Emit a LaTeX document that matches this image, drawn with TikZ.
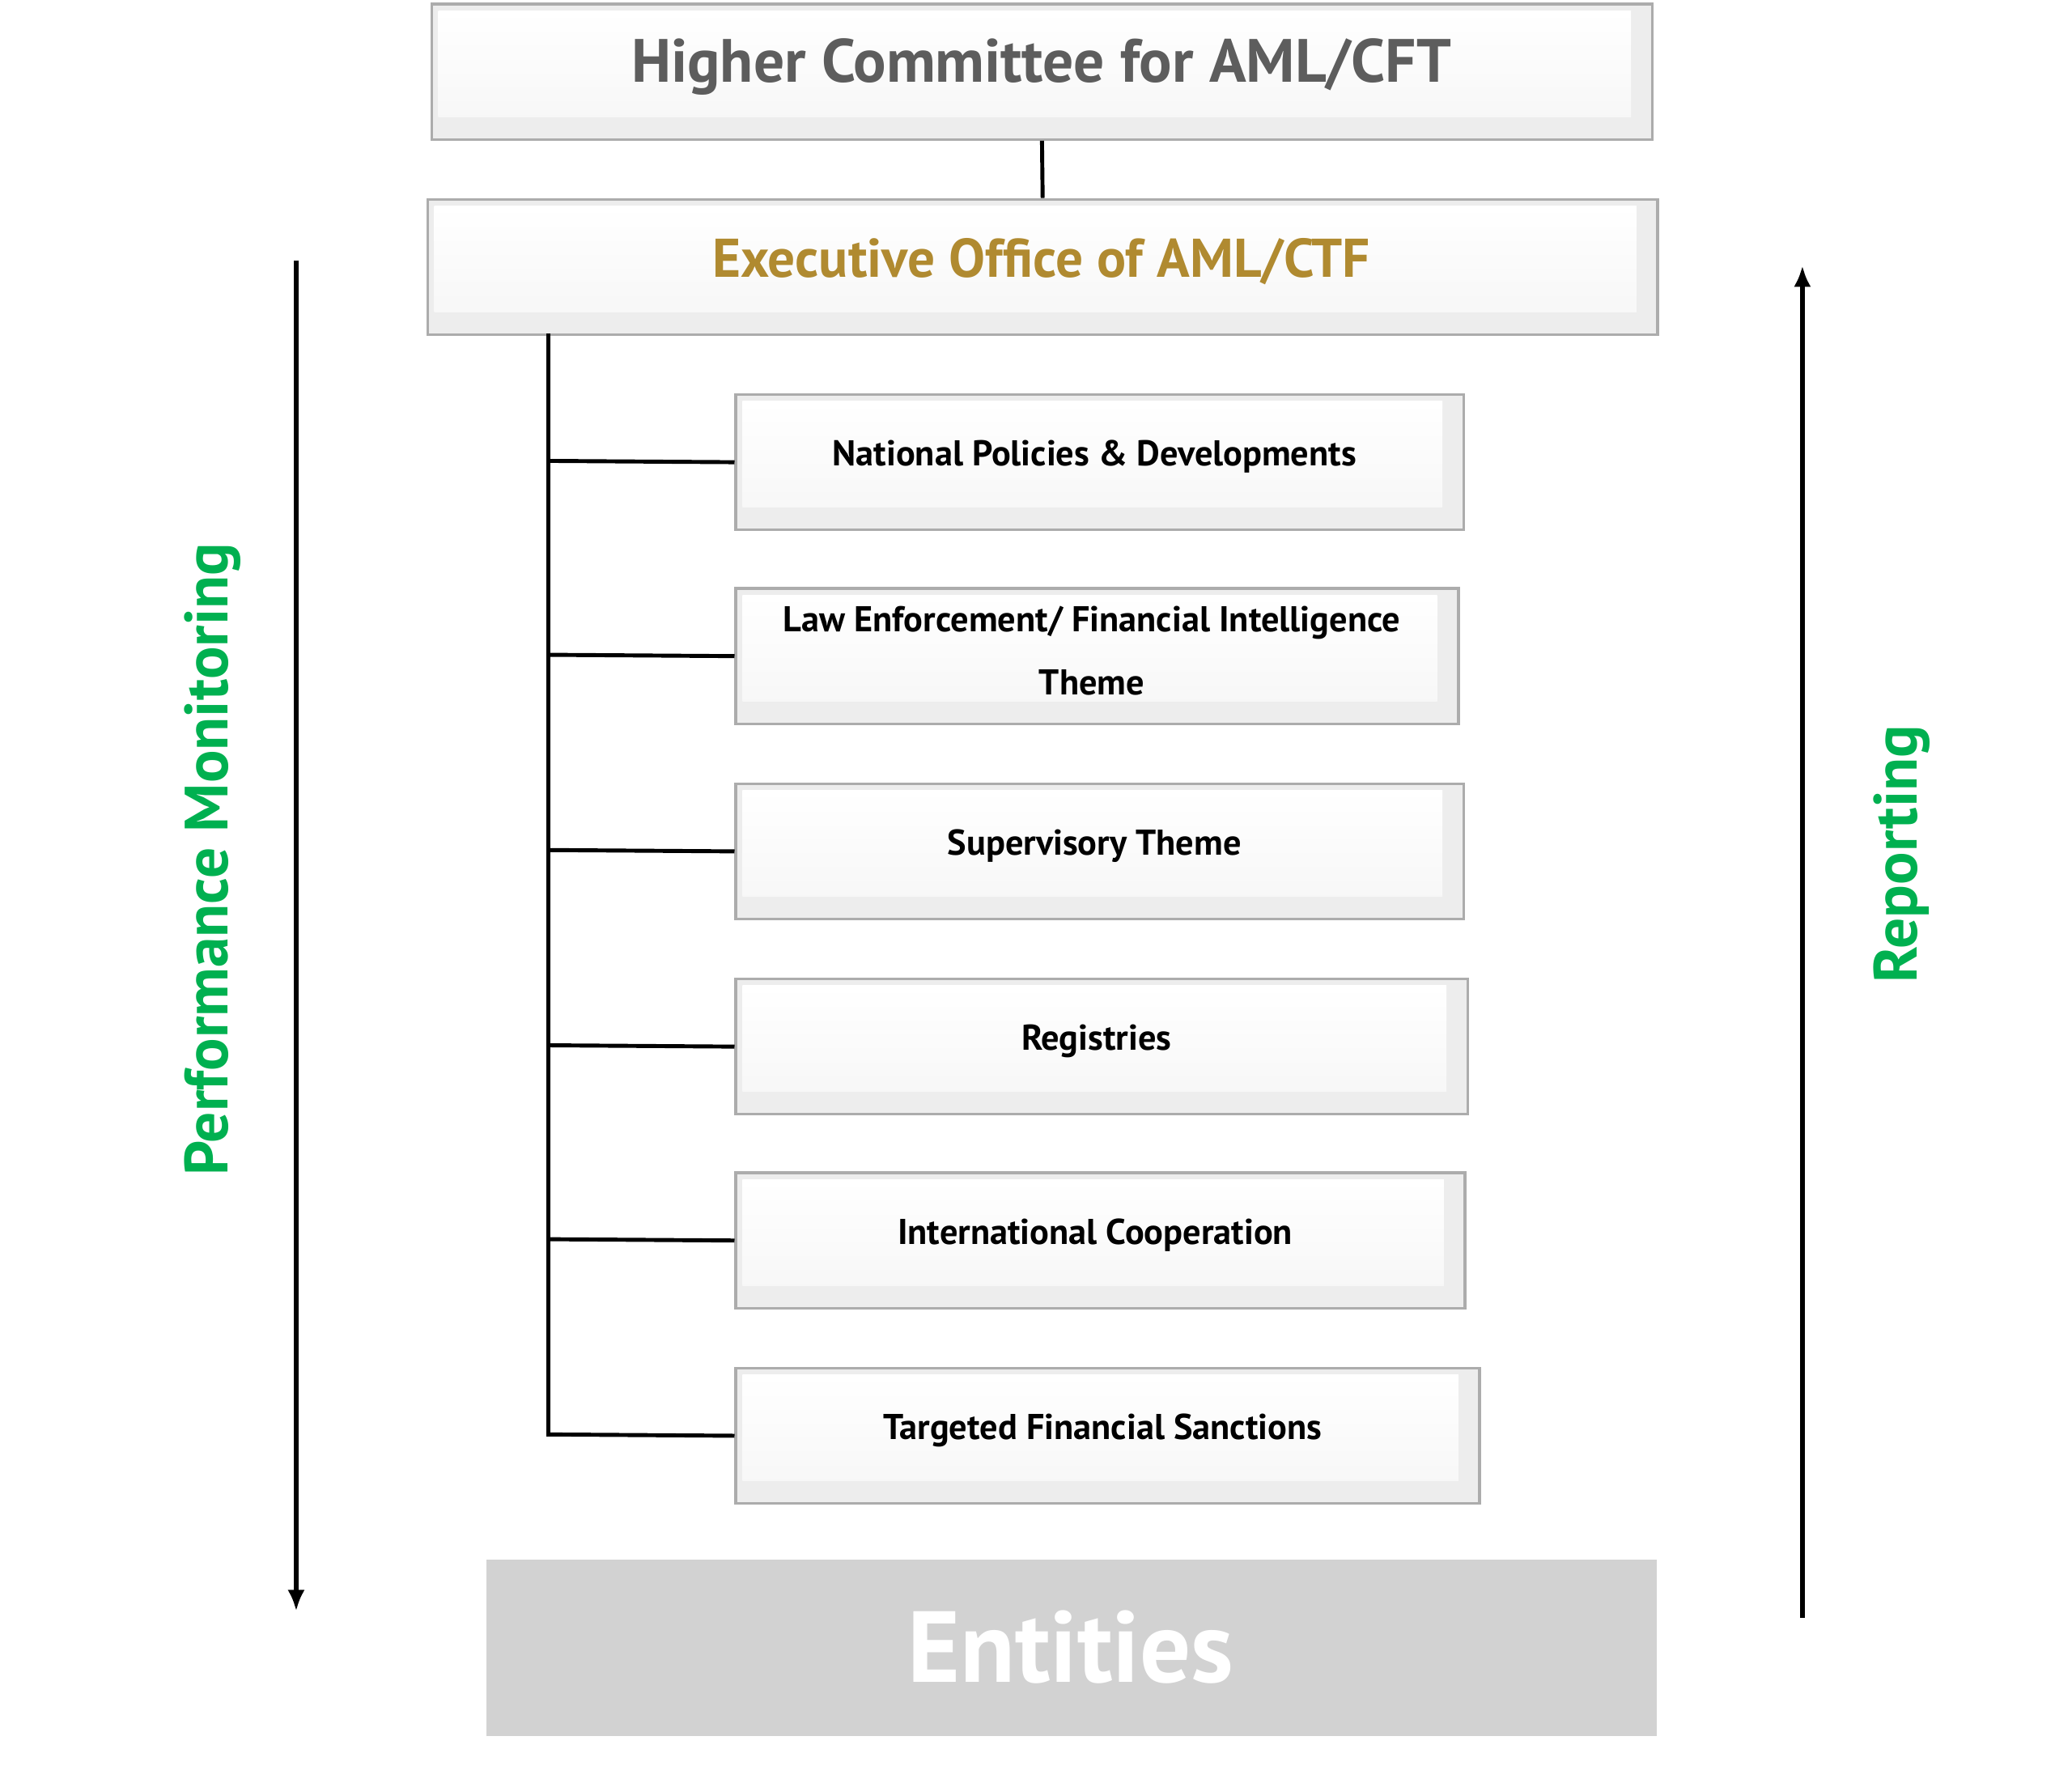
\documentclass[tikz,border=0pt]{standalone}
\usepackage{fontspec}
\setmainfont{PT Sans}
\usetikzlibrary{calc,arrows.meta}
\begin{document}
\begin{tikzpicture}[x=1pt,y=-1pt,
  bev/.style={draw=gray!65,line width=2pt,fill=gray!14,rectangle,anchor=north west,inner sep=0pt},
  conn/.style={line width=3pt},
  arr/.style={line width=3.2pt,-{Latex[length=16pt,width=13pt]}},
  side/.style={font=\bfseries\fontsize{46}{50}\selectfont,rotate=90}]
\useasboundingbox (0,0) rectangle (1560,1342);
\definecolor{grn}{HTML}{00B050}
\definecolor{gold}{HTML}{B08A30}
\node[bev,minimum width=919,minimum height=102] (hc) at (324,2) {};
\shade[top color=white,bottom color=gray!6] (330,8) rectangle (1228,88);
\node[text=gray!50!black!85,font=\bfseries\fontsize{46}{50}\selectfont] at (784,50) {Higher Committee for AML/CFT};
\node[bev,minimum width=926,minimum height=102] (ex) at (321,149) {};
\shade[top color=white,bottom color=gray!6] (327,155) rectangle (1232,235);
\node[text=gold,font=\bfseries\fontsize{41}{44}\selectfont] at (784,197) {Executive Office of AML/CTF};
\draw[conn] (hc.south) -- (ex.north);
\foreach \n/\y/\r/\t in {a/296/1101/{National Policies \& Developments},
  b/442/1097/{Law Enforcement/ Financial Intelligence\\Theme},
  c/589/1101/{Supervisory Theme},
  d/736/1104/{Registries},
  e/882/1102/{International Cooperation},
  f/1029/1113/{Targeted Financial Sanctions}}{
  \node[bev,minimum width=\r-553,minimum height=102] (\n) at (553,\y) {};
  \shade[top color=white,bottom color=gray!6] (559,\y+6) rectangle (\r-15,\y+86);
  \node[font=\bfseries\fontsize{27}{48}\selectfont,align=center] at ($(\n.center)+(-4,-4)$) {\t};
  \draw[conn] (\n.west) -- (413,\y+51);
}
\coordinate (top) at (413,251);
\draw[conn] (top) -- (413,1081.5);
\node[fill=gray!35,minimum width=881,minimum height=133,anchor=north west,inner sep=0pt] (en) at (366,1174) {};
\node[text=white,font=\bfseries\fontsize{76}{80}\selectfont] at (806,1240) {Entities};
\coordinate (l1) at (223,196); \coordinate (l2) at (223,1213);
\draw[arr] (l1) -- (l2);
\coordinate (r1) at (1357,1218); \coordinate (r2) at (1357,200);
\draw[arr] (r1) -- (r2);
\node[side,text=grn] at (160,647) {Performance Monitoring};
\node[side,text=grn] at (1432,643) {Reporting};
\end{tikzpicture}
\end{document}
